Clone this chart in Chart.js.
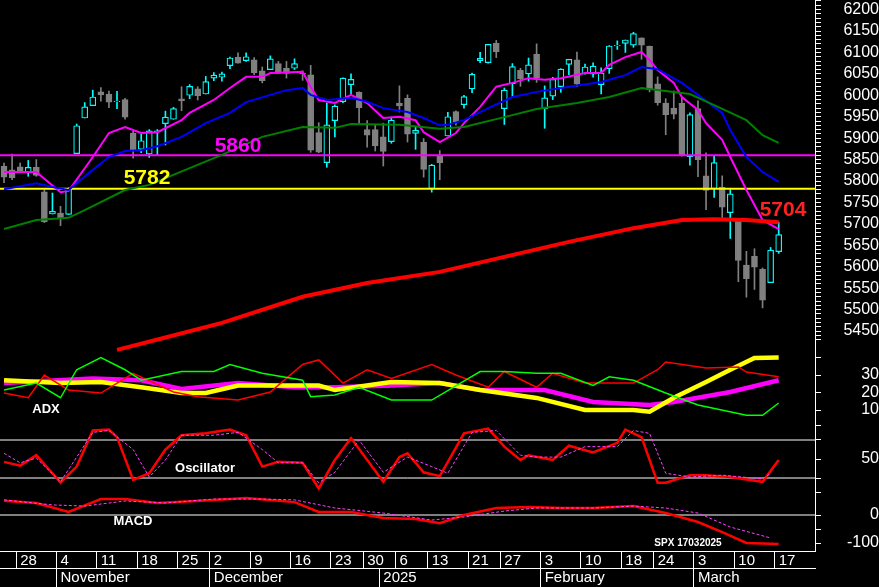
<!DOCTYPE html>
<html><head><meta charset="utf-8">
<script src="https://cdn.jsdelivr.net/npm/chart.js@4.4.1/dist/chart.umd.min.js"></script>
<style>html,body{margin:0;padding:0;background:#000;}#wrap{width:879px;height:587px;}</style>
</head><body><div id="wrap"><canvas id="c" width="879" height="587"></canvas></div>
<script>
const dates = ['2024-10-24','2024-10-25','2024-10-28','2024-10-29','2024-10-30','2024-10-31','2024-11-01','2024-11-04','2024-11-05','2024-11-06','2024-11-07','2024-11-08','2024-11-11','2024-11-12','2024-11-13','2024-11-14','2024-11-15','2024-11-18','2024-11-19','2024-11-20','2024-11-21','2024-11-22','2024-11-25','2024-11-26','2024-11-27','2024-11-29','2024-12-02','2024-12-03','2024-12-04','2024-12-05','2024-12-06','2024-12-09','2024-12-10','2024-12-11','2024-12-12','2024-12-13','2024-12-16','2024-12-17','2024-12-18','2024-12-19','2024-12-20','2024-12-23','2024-12-24','2024-12-26','2024-12-27','2024-12-30','2024-12-31','2025-01-02','2025-01-03','2025-01-06','2025-01-07','2025-01-08','2025-01-10','2025-01-13','2025-01-14','2025-01-15','2025-01-16','2025-01-17','2025-01-21','2025-01-22','2025-01-23','2025-01-24','2025-01-27','2025-01-28','2025-01-29','2025-01-30','2025-01-31','2025-02-03','2025-02-04','2025-02-05','2025-02-06','2025-02-07','2025-02-10','2025-02-11','2025-02-12','2025-02-13','2025-02-14','2025-02-18','2025-02-19','2025-02-20','2025-02-21','2025-02-24','2025-02-25','2025-02-26','2025-02-27','2025-02-28','2025-03-03','2025-03-04','2025-03-05','2025-03-06','2025-03-07','2025-03-10','2025-03-11','2025-03-12','2025-03-13','2025-03-14','2025-03-17','2025-03-18','2025-03-19','2025-03-20','2025-03-21'];
const weekStarts = ['2024-10-28','2024-11-04','2024-11-11','2024-11-18','2024-11-25','2024-12-02','2024-12-09','2024-12-16','2024-12-23','2024-12-30','2025-01-06','2025-01-13','2025-01-21','2025-01-27','2025-02-03','2025-02-10','2025-02-18','2025-02-24','2025-03-03','2025-03-10','2025-03-17'];
const monthStarts = {'2024-11-04':'November','2024-12-02':'December','2025-01-02':'2025','2025-02-03':'February','2025-03-03':'March'};

const open  = [5834,5826,5833,5819,5832,5775,5723,5725,5722,5864,5947,5976,6008,6003,5985,5990,5912,5874,5863,5915,5934,5944,5992,6000,6015,6003,6040,6042,6069,6089,6081,6083,6057,6060,6074,6063,6063,6052,6048,5913,5843,5941,5985,6025,6007,5920,5920,5903,5892,5982,5993,5911,5891,5782,5859,5905,5962,5978,6015,6081,6076,6121,5969,6027,6058,6050,6096,5969,5998,6020,6072,6083,6050,6049,6025,6062,6115,6121,6117,6134,6114,6027,5982,5970,5981,5857,5969,5812,5782,5786,5726,5706,5604,5624,5594,5563,5635];
const high  = [5842,5863,5842,5848,5850,5780,5772,5741,5784,5933,5983,6012,6018,6010,6009,5993,5916,5909,5920,5920,5963,5972,6020,6025,6020,6044,6053,6054,6089,6099,6099,6088,6066,6092,6079,6079,6085,6057,6070,5936,5982,5978,6041,6050,6008,5941,5930,5935,5949,6022,6001,5927,5899,5839,5871,5960,5964,6000,6052,6100,6119,6128,6017,6074,6063,6087,6120,6022,6042,6062,6084,6101,6073,6076,6064,6116,6127,6129,6147,6134,6115,6043,5992,6010,5994,5959,5987,5866,5860,5812,5783,5706,5636,5642,5597,5645,5704];
const low   = [5796,5803,5822,5811,5811,5703,5723,5696,5722,5864,5947,5976,5986,5971,5969,5944,5853,5866,5855,5860,5884,5944,5964,5992,5989,6003,6034,6033,6062,6075,6079,6048,6029,6060,6051,6040,6060,6035,5867,5866,5832,5903,5983,6004,5932,5879,5870,5835,5888,5961,5891,5874,5809,5774,5803,5905,5930,5970,6006,6076,6075,6088,5932,5995,6021,6033,6030,5923,5990,6007,6048,6020,6049,6042,6003,6051,6107,6100,6112,6084,6008,5977,5908,5945,5858,5837,5810,5733,5762,5711,5666,5565,5529,5547,5504,5563,5631];
const close = [5809,5808,5823,5832,5813,5705,5729,5712,5782,5929,5973,5996,6001,5984,5985,5949,5871,5894,5917,5917,5949,5969,5987,6021,5999,6032,6047,6050,6087,6075,6090,6053,6034,6085,6051,6051,6074,6050,5872,5867,5931,5975,6040,6037,5971,5907,5882,5869,5942,5975,5909,5918,5827,5837,5843,5950,5937,5997,6049,6086,6119,6101,6012,6067,6039,6071,6041,5994,6037,6061,6084,6026,6066,6068,6052,6115,6115,6129,6144,6117,6013,5983,5955,5956,5861,5955,5850,5778,5843,5739,5770,5615,5572,5599,5522,5639,5675];

const ma10 = [[0,5821],[4,5821],[7,5774],[8,5777],[11,5856],[13,5912],[15,5926],[17,5912],[19,5914],[22,5942],[23,5959],[26,5989],[28,6017],[30,6043],[32,6043],[33,6052],[37,6055],[38,6020],[39,5989],[41,5982],[43,6001],[45,5982],[47,5947],[49,5950],[51,5942],[52,5914],[54,5891],[56,5912],[57,5935],[59,5973],[61,6020],[63,6029],[65,6040],[67,6036],[69,6040],[72,6052],[74,6052],[75,6071],[77,6089],[79,6101],[80,6082],[81,6059],[83,6029],[84,5996],[86,5966],[87,5935],[89,5896],[90,5856],[92,5779],[94,5709],[96,5688]];
const ma20 = [[0,5781],[4,5795],[6,5786],[8,5779],[11,5826],[13,5856],[15,5870],[17,5872],[19,5881],[22,5903],[25,5935],[28,5959],[30,5984],[33,6001],[35,6012],[37,6017],[38,6001],[40,5989],[43,5994],[45,5985],[47,5970],[50,5961],[52,5947],[54,5930],[55,5931],[57,5942],[60,5970],[63,5996],[66,6008],[70,6020],[74,6031],[77,6047],[79,6066],[81,6061],[84,6029],[86,6001],[89,5959],[90,5919],[92,5856],[94,5821],[96,5798]];
const ma50 = [[0,5688],[4,5709],[8,5714],[10,5732],[15,5779],[18,5791],[23,5830],[27,5861],[32,5903],[37,5926],[41,5924],[43,5933],[49,5931],[54,5922],[57,5926],[62,5949],[66,5968],[71,5982],[75,5996],[79,6017],[82,6010],[85,6003],[88,5977],[92,5942],[94,5907],[96,5889]];
const ma200 = [[14,5406],[20,5435],[27,5469],[37,5530],[45,5562],[54,5588],[62,5623],[70,5658],[78,5690],[84,5709],[88,5711],[92,5709],[96,5704]];
const level1 = 5860, level2 = 5782, lastMA200 = 5704;

const adx  = [[0,27],[7,25.4],[12,26],[17,23],[22,19.7],[25,19.7],[29,24],[34,24],[39,24],[41,21.4],[48,26],[54,25.4],[59,21.4],[66,16.9],[72,10],[78,10],[80,9],[83,17],[87,26],[90,33],[93,39.7],[96,40]];
const adxr = [[0,25.4],[11,28],[17,27],[22,22],[29,25.4],[36,23],[41,23],[48,24],[54,25.4],[59,21.4],[67,21.4],[73,14.6],[80,12.9],[83,14.6],[90,20.3],[96,27]];
const diPlus = [[0,21.4],[4,25.4],[7,17],[9,33],[12,40],[15,33],[17,27],[22,32],[26,32],[28,36],[32,31],[37,27],[38,17.6],[41,18.6],[44,23],[48,15.7],[53,15.7],[59,32],[62,32],[66,31],[69,31],[73,24],[75,29],[78,27],[82,19.7],[86,12.9],[92,7],[94,7],[96,14]];
const diMinus = [[0,19.7],[3,17],[5,30],[8,21.4],[12,19.7],[16,31],[21,20.3],[24,17.6],[29,15.7],[33,20.3],[37,36],[39,38.6],[42,25.4],[45,33],[48,28],[53,36],[56,30],[60,23],[62,32],[66,23],[68,31],[72,25.4],[78,25.4],[81,33],[82,37.4],[87,34],[91,34.6],[92,31.7],[96,29]];
const osc = [[0,47],[2,43],[4,54],[6,35],[7,25],[9,42],[11,80],[13,81],[14,73],[16,28],[18,35],[20,60],[22,75],[25,77],[28,81],[30,75],[32,42],[34,47],[37,46],[39,19],[41,49],[43,72],[47,26],[49,52],[50,56],[52,36],[54,32],[57,77],[60,82],[62,63],[64,49],[65,54],[68,49],[70,64],[73,57],[76,67],[77,81],[79,73],[81,25],[82,25],[85,33],[87,33],[90,31],[94,26],[96,49]];
const oscSignal = [[0,56],[2,46],[4,51],[7,26],[11,78],[13,80],[16,60],[18,31],[20,49],[22,75],[26,75],[29,78],[32,60],[34,46],[37,46],[39,25],[41,36],[44,70],[47,36],[50,52],[53,42],[55,35],[58,78],[61,80],[64,54],[66,52],[69,52],[72,63],[76,63],[78,80],[80,77],[82,35],[85,31],[89,33],[94,29],[95,35]];
const macd = [[0,51],[4,43],[8,11],[12,57],[15,57],[19,43],[26,54],[30,61],[36,46],[39,11],[43,11],[47,-11],[51,-14],[54,-29],[57,0],[61,25],[65,29],[69,25],[73,25],[78,32],[82,7],[86,-25],[89,-61],[92,-100],[96,-104]];
const macdSignal = [[0,54],[6,36],[10,32],[15,50],[20,43],[26,57],[32,57],[36,54],[41,25],[47,7],[53,-18],[57,-7],[62,14],[66,25],[73,25],[78,32],[82,25],[86,7],[90,-43],[95,-82]];
const oscLines = [70, 30], macdZero = 0;

const priceTicks = [6200,6150,6100,6050,6000,5950,5900,5850,5800,5750,5700,5650,5600,5550,5500,5450];
const adxTicks = [30,20,10], oscTicks = [50], macdTicks = [0,-100];

const pPx = v => 31 + (6150 - v) * 0.4286;
const aPx = v => 375 + (30 - v) * 1.75;
const oPx = v => 459 + (50 - v) * 0.95;
const mPx = v => 515 - v * 0.28;
const H = 551;
function inv(px, v0, k, p0){ return v0 + (p0 - px) / k; }
const priceR = {min: inv(H,6150,0.4286,31), max: inv(0,6150,0.4286,31)};
const adxR = {min: inv(H,30,1.75,375), max: inv(0,30,1.75,375)};
const oscR = {min: inv(H,50,0.95,459), max: inv(0,50,0.95,459)};
const macdR = {min: inv(H,0,0.28,515), max: inv(0,0,0.28,515)};

const tickDefs = [];
priceTicks.forEach(v => tickDefs.push({px: pPx(v), label: String(v)}));
for (let v = 5430; v <= 6220; v += 10) if (v % 50) tickDefs.push({px: pPx(v), label: ''});
adxTicks.forEach(v => tickDefs.push({px: aPx(v), label: String(v)}));
[40].forEach(v => tickDefs.push({px: aPx(v), label: ''}));
oscTicks.forEach(v => tickDefs.push({px: oPx(v), label: String(v)}));
[85, 70, 30, 15].forEach(v => tickDefs.push({px: oPx(v), label: ''}));
macdTicks.forEach(v => tickDefs.push({px: mPx(v), label: String(v)}));
[-50].forEach(v => tickDefs.push({px: mPx(v), label: ''}));

const pts = arr => arr.map(([i, v]) => ({x: dates[i], y: v}));
const n = close.length;
const up = i => close[i] >= open[i];
const CY = '#00ffff', GR = '#808080';

const line = (label, data, axis, color, width, extra) => Object.assign({type: 'line', label, data: pts(data), yAxisID: axis, borderColor: color, borderWidth: width, pointRadius: 0, tension: 0, order: 1}, extra || {});
const hline = (label, v, axis, color, width) => ({type: 'line', label, data: [{x: 0, y: v}, {x: 1, y: v}], xAxisID: 'xl', yAxisID: axis, borderColor: color, borderWidth: width, pointRadius: 0, order: 2});

const textPlugin = {
  id: 'texts',
  afterDatasetsDraw(chart) {
    const c = chart.ctx;
    c.save();
    c.textAlign = 'center'; c.textBaseline = 'middle';
    c.font = 'bold 21px "Liberation Sans", Arial';
    c.fillStyle = '#ff00ff'; c.fillText(String(level1), 238, 146);
    c.fillStyle = '#ffff00'; c.fillText(String(level2), 147, 178);
    c.fillStyle = '#ff2020'; c.fillText(String(lastMA200), 783, 210);
    c.font = 'bold 13px "Liberation Sans", Arial';
    c.fillStyle = '#ffffff';
    c.fillText('ADX', 46, 409);
    c.fillText('Oscillator', 205, 468);
    c.fillText('MACD', 133, 521);
    c.font = 'bold 10px "Liberation Sans", Arial';
    c.fillText('SPX 17032025', 688, 543);
    c.restore();
  }
};

new Chart(document.getElementById('c'), {
  data: {
    labels: dates,
    datasets: [
      {type: 'bar', label: 'wick', data: dates.slice(0, n).map((d, i) => [low[i], high[i]]), yAxisID: 'price', grouped: false, barThickness: 1, backgroundColor: dates.slice(0, n).map((d, i) => up(i) ? CY : GR), order: 10},
      {type: 'bar', label: 'body', data: dates.slice(0, n).map((d, i) => up(i) ? [open[i], Math.max(close[i], open[i] + 1.5)] : [close[i], open[i]]), yAxisID: 'price', grouped: false, barThickness: 6, backgroundColor: dates.slice(0, n).map((d, i) => up(i) ? '#000' : GR), borderColor: dates.slice(0, n).map((d, i) => up(i) ? CY : GR), borderWidth: 1.2, borderSkipped: false, order: 9},
      hline('5860', level1, 'price', '#ff00ff', 2),
      hline('5782', level2, 'price', '#ffff00', 2),
      line('MA200', ma200, 'price', '#ff0000', 4),
      line('MA50', ma50, 'price', '#008000', 2),
      line('MA20', ma20, 'price', '#0000ff', 2),
      line('MA10', ma10, 'price', '#ff00ff', 2),
      line('+DI', diPlus, 'adx', '#00ff00', 1.5),
      line('-DI', diMinus, 'adx', '#ff0000', 1.5),
      line('ADX', adx, 'adx', '#ffff00', 4.5),
      line('ADXR', adxr, 'adx', '#ff00ff', 4.5),
      hline('osc70', oscLines[0], 'osc', '#ffffff', 1),
      hline('osc30', oscLines[1], 'osc', '#ffffff', 1),
      line('Signal', oscSignal, 'osc', '#ff40ff', 1, {borderDash: [3, 2]}),
      line('Oscillator', osc, 'osc', '#ff0000', 2.5),
      hline('macd0', macdZero, 'macd', '#ffffff', 1),
      line('MACD signal', macdSignal, 'macd', '#ff40ff', 1, {borderDash: [3, 2]}),
      line('MACD', macd, 'macd', '#ff0000', 2.5)
    ]
  },
  options: {
    responsive: false, animation: false,
    layout: {padding: 0},
    plugins: {legend: {display: false}, tooltip: {enabled: false}},
    scales: {
      x: {
        type: 'category', position: 'bottom', offset: true,
        grid: {drawOnChartArea: false, drawTicks: true, tickLength: 17, offset: true,
          color: ctx => (ctx.index !== undefined && weekStarts.includes(dates[ctx.index])) ? '#ffffff' : 'rgba(0,0,0,0)'},
        border: {display: true, color: '#ffffff'},
        ticks: {autoSkip: false, maxRotation: 0, padding: -16, align: 'start', color: '#ffffff', font: {size: 15, family: '"Liberation Sans", Arial'},
          callback: (v, i) => weekStarts.includes(dates[i]) ? String(parseInt(dates[i].slice(8), 10)) : ''},
        afterFit: s => { s.height = 17; s.paddingLeft = 0; s.paddingRight = 0; }
      },
      xm: {
        type: 'category', position: 'bottom', offset: true, labels: dates,
        grid: {drawOnChartArea: false, drawTicks: true, tickLength: 19, offset: true,
          color: ctx => (ctx.index !== undefined && monthStarts[dates[ctx.index]]) ? '#ffffff' : 'rgba(0,0,0,0)'},
        border: {display: true, color: '#ffffff'},
        ticks: {autoSkip: false, maxRotation: 0, padding: -18, align: 'start', color: '#ffffff', font: {size: 15, family: '"Liberation Sans", Arial'},
          callback: (v, i) => monthStarts[dates[i]] || ''},
        afterFit: s => { s.height = 19; s.paddingLeft = 0; s.paddingRight = 0; }
      },
      xl: {type: 'linear', display: false, min: 0, max: 1},
      yr: {
        type: 'linear', position: 'right', min: 0, max: H, reverse: true,
        afterBuildTicks: s => { s.ticks = tickDefs.map(t => ({value: t.px})); },
        ticks: {autoSkip: false, color: '#ffffff', crossAlign: 'far', padding: 4, font: {size: 16, family: '"Liberation Sans", Arial'},
          callback: (v) => { const t = tickDefs.find(d => Math.abs(d.px - v) < 0.01); return t ? t.label : ''; }},
        grid: {drawOnChartArea: false, tickLength: 6, color: '#ffffff'},
        border: {display: true, color: '#ffffff', width: 1},
        afterFit: s => { s.width = 64; s.paddingTop = 0; s.paddingBottom = 0; }
      },
      price: {type: 'linear', display: false, min: priceR.min, max: priceR.max},
      adx: {type: 'linear', display: false, min: adxR.min, max: adxR.max},
      osc: {type: 'linear', display: false, min: oscR.min, max: oscR.max},
      macd: {type: 'linear', display: false, min: macdR.min, max: macdR.max}
    }
  },
  plugins: [textPlugin]
});
</script></body></html>
